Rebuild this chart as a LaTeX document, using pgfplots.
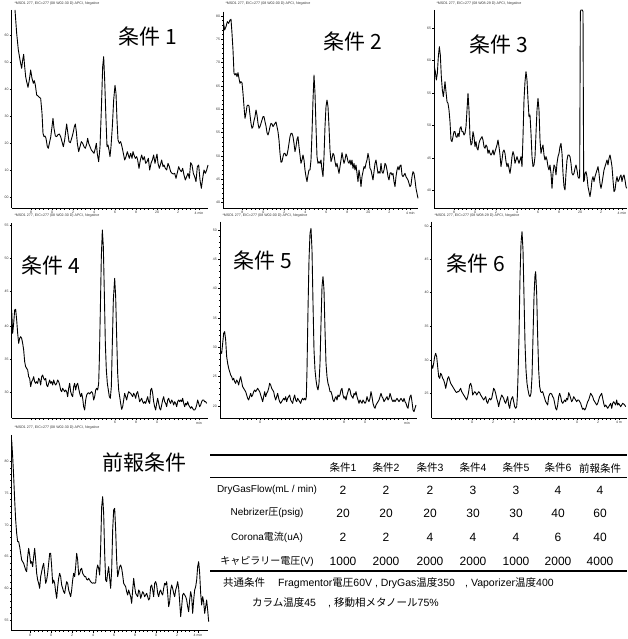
\documentclass[border=0pt]{standalone}
\usepackage{pgfplots}
\pgfplotsset{compat=1.18}
\usepackage{fontspec}
\setmainfont{Liberation Sans}
\newfontfamily\cjk{Noto Sans CJK JP}
\pgfplotsset{
  chrom/.style={
    scale only axis, anchor=south west, y dir=reverse,
    axis x line*=bottom, axis y line*=left,
    axis line style={line width=0.8pt, -},
    tick style={black, line width=0.4pt},
    tick align=outside, major tick length=2pt, minor tick length=1.2pt,
    minor x tick num=4, minor y tick num=4,
    ticklabel style={font=\fontsize{3.5}{4}\selectfont, text=black!80, inner sep=1pt},
    clip=false,
  },
  trace/.style={black, line width=0.9pt, line join=round, mark=none},
}
\newcommand{\hdr}[3]{\node[anchor=west, font=\fontsize{3.6}{4}\selectfont, text=black!80] at (#1,#2) {#3};}
\begin{document}
\begin{tikzpicture}[x=1pt, y=1pt]
\useasboundingbox (0,0) rectangle (627,639);

% ---------- Panel 1
\begin{axis}[chrom, at={(11.67pt,430.67pt)}, width=196.67pt, height=198.33pt,
  xmin=35, xmax=625, ymin=30, ymax=625,
  xtick={93,156,219,282,345,408,471,534,597}, xticklabels={8,0,2,4,6,8,20,2,4 min},
  ytick={107,187,268,349,430,511,592}, yticklabels={60,50,40,30,20,10,00}]
\addplot[trace] coordinates {(45,30) (50,100) (55,150) (60,180) (65,205) (68,180) (71,163) (74,200) (77,230) (80,245) (84,262) (88,240) (92,210) (96,235) (100,250) (103,242) (106,255) (110,285) (114,288) (118,292) (122,295) (126,340) (129,400) (132,410) (135,408) (138,415) (142,440) (145,445) (148,430) (152,412) (156,380) (159,355) (162,385) (166,408) (170,410) (174,404) (178,402) (182,410) (186,425) (190,440) (194,420) (197,395) (200,372) (203,395) (207,425) (211,428) (215,415) (219,400) (223,380) (226,372) (229,395) (232,430) (236,455) (240,440) (244,425) (248,430) (252,440) (256,445) (260,432) (263,415) (266,430) (270,440) (274,450) (278,455) (282,460) (286,445) (289,430) (292,462) (296,485) (300,440) (304,330) (308,200) (311,170) (314,240) (318,360) (321,440) (324,435) (327,450) (330,470) (333,440) (337,380) (341,300) (345,256) (348,280) (351,360) (354,420) (358,430) (362,425) (366,440) (370,460) (374,480) (378,470) (382,455) (385,465) (388,475) (392,460) (396,475) (399,455) (402,465) (406,475) (410,470) (413,480) (417,505) (421,480) (425,465) (429,480) (433,470) (437,490) (441,485) (445,475) (449,510) (453,490) (457,480) (461,465) (465,490) (468,475) (471,462) (474,490) (478,505) (481,495) (485,480) (489,500) (492,495) (496,505) (500,510) (504,490) (508,500) (512,515) (516,520) (520,522) (524,520) (528,535) (532,518) (536,500) (540,510) (544,515) (548,505) (552,525) (556,540) (560,530) (564,520) (568,535) (572,488) (576,495) (580,520) (584,530) (588,545) (592,500) (596,495) (600,540) (604,565) (608,535) (612,510) (616,520) (620,510) (624,495)};
\end{axis}

% ---------- Panel 2
\begin{axis}[chrom, at={(223.33pt,430.67pt)}, width=195pt, height=196.67pt,
  xmin=40, xmax=625, ymin=35, ymax=625,
  xtick={97,160,223,286,349,412,475,538,601}, xticklabels={8,0,2,4,6,8,20,2,4 min},
  ytick={48,118,188,258,328,398,468,538,608}, yticklabels={80,75,70,65,60,55,50,45,40}]
\addplot[trace] coordinates {(40,65) (44,90) (48,80) (52,65) (56,70) (60,60) (63,58) (66,100) (69,150) (72,220) (75,225) (78,220) (81,230) (84,218) (87,235) (90,250) (93,245) (96,248) (99,280) (102,320) (105,355) (108,340) (111,318) (114,315) (117,318) (120,345) (123,370) (126,385) (129,380) (132,362) (135,350) (138,330) (141,345) (144,370) (147,385) (150,380) (153,370) (156,360) (159,350) (162,350) (165,365) (168,378) (171,398) (174,405) (177,395) (180,380) (183,370) (186,372) (189,380) (192,375) (195,370) (198,366) (201,380) (204,395) (207,420) (210,460) (213,487) (216,485) (219,470) (222,460) (225,460) (228,468) (231,465) (234,450) (237,430) (240,410) (243,400) (246,400) (249,410) (252,430) (255,455) (258,440) (261,418) (264,410) (267,440) (270,465) (273,490) (276,480) (279,465) (282,480) (285,510) (288,530) (291,545) (294,525) (297,510) (300,510) (303,480) (306,400) (309,300) (312,225) (315,280) (318,380) (321,470) (324,490) (327,485) (330,490) (333,480) (336,510) (339,530) (342,470) (345,380) (348,320) (351,300) (354,320) (357,380) (360,450) (363,485) (366,475) (369,460) (372,465) (375,485) (378,500) (381,490) (384,505) (387,520) (390,500) (393,480) (396,458) (399,475) (402,490) (405,480) (408,462) (411,470) (414,485) (417,490) (420,480) (423,495) (426,480) (429,505) (432,490) (435,510) (438,495) (441,520) (444,545) (447,510) (450,530) (453,560) (456,530) (459,515) (462,500) (465,505) (468,490) (471,480) (474,460) (477,475) (480,505) (483,510) (486,525) (489,540) (492,515) (495,490) (498,480) (501,500) (504,520) (507,515) (510,520) (513,490) (516,515) (519,520) (522,510) (525,490) (528,495) (531,510) (534,530) (537,540) (540,520) (543,518) (546,525) (549,520) (552,545) (555,560) (558,530) (561,510) (564,500) (567,510) (570,497) (573,495) (576,525) (579,530) (582,525) (585,520) (588,530) (591,535) (594,540) (597,550) (600,560) (603,555) (606,530) (609,515) (612,520) (615,540) (618,565) (621,580) (624,595)};
\end{axis}

% ---------- Panel 3
\begin{axis}[chrom, at={(434.33pt,430.67pt)}, width=193pt, height=198.33pt,
  xmin=43, xmax=622, ymin=30, ymax=625,
  xtick={102,165,228,291,354,417,480,543,606}, xticklabels={8,0,2,4,6,8,20,2,4 min},
  ytick={85,182,280,377,475,572}, yticklabels={65,60,55,50,45,40}]
\addplot[trace] coordinates {(43,200) (46,215) (49,240) (52,220) (55,170) (58,140) (61,165) (64,230) (67,270) (70,290) (73,265) (75,245) (78,275) (81,305) (84,310) (87,330) (90,365) (93,420) (96,425) (99,410) (102,395) (105,395) (108,410) (111,412) (114,400) (117,410) (120,385) (123,380) (126,395) (129,395) (132,405) (135,400) (138,380) (141,330) (144,280) (147,330) (150,410) (153,435) (156,430) (159,395) (162,410) (165,440) (168,425) (171,445) (174,450) (177,430) (180,420) (183,415) (186,410) (189,420) (192,440) (195,445) (198,435) (201,440) (204,460) (207,450) (210,460) (213,465) (216,460) (219,450) (222,465) (225,455) (228,445) (231,435) (234,420) (237,440) (240,465) (243,500) (246,480) (249,455) (252,450) (255,460) (258,485) (261,500) (264,490) (267,505) (270,520) (273,500) (276,470) (279,455) (282,465) (285,490) (288,480) (291,470) (294,480) (297,490) (300,480) (303,470) (306,500) (309,410) (312,300) (315,245) (318,215) (321,240) (324,300) (327,350) (330,345) (333,400) (336,470) (339,500) (342,495) (345,470) (348,400) (351,330) (354,295) (357,330) (360,420) (363,460) (366,445) (369,435) (372,465) (375,480) (378,470) (381,480) (384,500) (387,510) (390,495) (393,520) (396,565) (399,520) (402,495) (405,500) (408,525) (411,490) (414,470) (417,460) (420,440) (423,430) (426,460) (429,520) (432,560) (435,570) (438,520) (441,480) (444,465) (447,465) (450,470) (453,490) (456,520) (459,525) (462,520) (465,505) (468,495) (471,510) (474,530) (477,535) (479,530) (481,35) (483,30) (487,30) (489,35) (491,545) (493,540) (495,520) (498,515) (501,530) (504,560) (507,575) (510,590) (513,570) (516,540) (519,530) (522,545) (525,530) (528,520) (531,510) (534,500) (537,520) (540,550) (543,565) (546,550) (549,530) (552,510) (555,500) (558,490) (561,480) (564,495) (567,475) (570,465) (573,480) (576,500) (579,540) (582,575) (585,570) (588,545) (591,530) (594,545) (597,540) (600,530) (603,525) (606,545) (609,530) (612,525) (615,540) (618,560) (620,565)};
\end{axis}

% ---------- Panel 4
\begin{axis}[chrom, at={(11.67pt,220.67pt)}, width=196.67pt, height=195pt,
  xmin=35, xmax=625, ymin=40, ymax=625,
  xtick={93,156,219,282,345,408,471,534,597}, xticklabels={,,,,6,8,0,,min},
  ytick={45,145,245,348,448,548}, yticklabels={55,50,45,40,35,30}]
\addplot[trace] coordinates {(35,300) (38,370) (41,340) (44,300) (47,298) (50,330) (53,370) (56,400) (59,385) (62,380) (65,385) (68,400) (71,420) (74,455) (77,470) (80,475) (83,480) (86,500) (89,505) (92,530) (95,515) (98,510) (101,500) (104,515) (107,520) (110,515) (113,520) (116,505) (119,510) (122,525) (125,500) (128,495) (131,505) (134,510) (137,505) (140,525) (143,530) (146,520) (149,510) (152,520) (155,515) (158,525) (161,510) (164,520) (167,525) (170,520) (173,510) (176,515) (179,525) (182,540) (185,545) (188,535) (191,540) (194,545) (197,540) (200,545) (203,560) (206,535) (209,520) (212,545) (215,555) (218,560) (221,530) (224,520) (227,540) (230,525) (233,520) (236,535) (239,550) (242,560) (245,550) (248,565) (251,590) (254,600) (257,570) (260,555) (263,550) (266,548) (269,552) (272,548) (275,545) (278,550) (281,570) (284,560) (287,540) (290,535) (293,540) (296,520) (298,450) (301,300) (304,140) (307,60) (310,110) (313,250) (316,400) (319,480) (322,520) (325,540) (328,560) (331,565) (334,530) (337,400) (340,270) (344,205) (347,260) (350,380) (353,490) (356,540) (359,560) (362,580) (365,598) (368,590) (371,570) (374,550) (377,560) (380,570) (383,555) (386,545) (389,548) (392,550) (395,555) (398,560) (401,550) (404,555) (407,565) (410,550) (413,545) (416,560) (419,575) (422,570) (425,565) (428,575) (431,580) (434,575) (437,580) (440,570) (443,560) (446,575) (449,580) (452,540) (455,535) (458,550) (461,575) (464,590) (467,600) (470,580) (473,565) (476,580) (479,595) (482,600) (485,585) (488,570) (491,560) (494,575) (497,580) (500,590) (503,570) (506,565) (509,575) (512,580) (515,570) (518,575) (521,585) (524,575) (527,580) (530,590) (533,575) (536,570) (539,575) (542,570) (545,575) (548,565) (551,580) (554,590) (557,580) (560,585) (563,575) (566,585) (569,590) (572,595) (575,590) (578,595) (581,600) (584,600) (587,595) (590,585) (593,570) (596,580) (599,590) (602,585) (605,575) (608,570) (611,570) (614,575) (617,575) (620,580)};
\end{axis}

% ---------- Panel 5
\begin{axis}[chrom, at={(220pt,220.67pt)}, width=196.67pt, height=196.67pt,
  xmin=45, xmax=635, ymin=35, ymax=625,
  xtick={102,165,228,291,354,417,480,543,606}, xticklabels={,0,,,,8,0,,min},
  ytick={60,148,236,324,412,500,588}, yticklabels={50,45,40,35,30,25,20}]
\addplot[trace] coordinates {(47,425) (50,430) (53,400) (56,370) (59,365) (62,390) (65,440) (68,460) (71,475) (74,485) (77,495) (80,500) (83,510) (86,505) (89,515) (92,520) (95,510) (98,515) (101,525) (104,510) (107,500) (110,515) (113,530) (116,535) (119,540) (122,545) (125,555) (128,565) (131,570) (134,560) (137,550) (140,560) (143,555) (146,545) (149,540) (152,545) (155,540) (158,535) (161,540) (164,545) (167,555) (170,565) (173,575) (176,560) (179,545) (182,560) (185,550) (188,545) (191,535) (194,520) (197,525) (200,535) (203,540) (206,545) (209,560) (212,570) (215,560) (218,550) (221,565) (224,575) (227,580) (230,575) (233,570) (236,565) (239,570) (242,560) (245,575) (248,565) (251,560) (254,555) (257,570) (260,575) (263,580) (266,565) (269,555) (272,570) (275,575) (278,565) (281,570) (284,575) (287,580) (290,570) (293,565) (296,570) (299,565) (302,570) (304,560) (306,480) (309,300) (312,150) (315,70) (318,55) (321,120) (324,280) (327,420) (330,480) (333,510) (336,530) (339,540) (342,520) (345,460) (348,340) (351,230) (354,200) (357,240) (360,360) (363,460) (366,500) (369,520) (372,530) (375,545) (378,545) (381,555) (384,570) (387,575) (390,565) (393,560) (396,570) (399,555) (402,560) (405,555) (408,540) (411,535) (414,555) (417,565) (420,560) (423,570) (426,555) (429,545) (432,535) (435,540) (438,555) (441,560) (444,565) (447,550) (450,555) (453,545) (456,560) (459,570) (462,580) (465,570) (468,575) (471,580) (474,570) (477,575) (480,580) (483,575) (486,560) (489,570) (492,575) (495,565) (498,545) (501,560) (504,580) (507,590) (510,595) (513,585) (516,580) (519,575) (522,570) (525,560) (528,550) (531,560) (534,565) (537,575) (540,570) (543,565) (546,560) (549,570) (552,565) (555,550) (558,560) (561,570) (564,575) (567,570) (570,575) (573,570) (576,565) (579,570) (582,575) (585,570) (588,565) (591,570) (594,575) (597,565) (600,575) (603,580) (606,590) (609,595) (612,575) (615,560) (618,555) (621,575) (624,600) (627,605) (630,595) (633,585)};
\end{axis}

% ---------- Panel 6
\begin{axis}[chrom, at={(431.67pt,220.67pt)}, width=195pt, height=196.67pt,
  xmin=50, xmax=635, ymin=35, ymax=625,
  xtick={108,171,234,297,360,423,486,549,612}, xticklabels={,0,2,4,,,0,2,4 m},
  ytick={48,148,248,348,450,550}, yticklabels={50,45,40,35,30,25}]
\addplot[trace] coordinates {(50,465) (53,475) (56,460) (59,440) (62,430) (65,440) (68,470) (71,500) (74,505) (77,490) (80,495) (83,505) (86,510) (89,520) (92,535) (95,520) (98,505) (101,500) (104,510) (107,520) (110,525) (113,530) (116,535) (119,540) (122,545) (125,548) (128,545) (131,545) (134,540) (137,535) (140,545) (143,550) (146,555) (149,560) (152,565) (155,570) (158,560) (161,545) (164,525) (167,520) (170,530) (173,555) (176,550) (179,545) (182,548) (185,555) (188,550) (191,545) (194,548) (197,555) (200,560) (203,565) (206,570) (209,565) (212,560) (215,575) (218,580) (221,570) (224,565) (227,570) (230,565) (233,550) (236,535) (239,540) (242,550) (245,565) (248,575) (251,590) (254,575) (257,565) (260,555) (263,560) (266,565) (269,575) (272,580) (275,570) (278,560) (281,585) (284,595) (287,575) (290,565) (293,560) (296,575) (299,590) (302,595) (305,590) (307,560) (309,500) (312,380) (315,200) (318,100) (321,65) (324,120) (327,260) (330,400) (333,480) (336,520) (339,540) (342,555) (345,560) (348,550) (351,500) (354,380) (357,260) (360,195) (362,185) (365,250) (368,380) (371,480) (374,530) (377,545) (380,548) (383,545) (386,555) (389,565) (392,575) (395,580) (398,585) (401,560) (404,552) (407,550) (410,552) (413,560) (416,565) (419,580) (422,595) (425,600) (428,585) (431,560) (434,550) (437,560) (440,575) (443,580) (446,575) (449,570) (452,575) (455,565) (458,570) (461,548) (464,555) (467,565) (470,575) (473,570) (476,560) (479,565) (482,570) (485,575) (488,570) (491,570) (494,575) (497,580) (500,590) (503,598) (506,595) (509,600) (512,595) (515,585) (518,575) (521,570) (524,560) (527,550) (530,555) (533,560) (536,570) (539,575) (542,580) (545,585) (548,580) (551,570) (554,560) (557,555) (560,550) (563,565) (566,580) (569,590) (572,585) (575,590) (578,595) (581,590) (584,585) (587,580) (590,595) (593,580) (596,575) (599,580) (602,585) (605,570) (608,585) (611,580) (614,585) (617,590) (620,585) (623,580) (626,582) (629,585) (632,590)};
\end{axis}

% ---------- Panel 7
\begin{axis}[chrom, at={(11.67pt,8.33pt)}, width=196.67pt, height=195.67pt,
  xmin=35, xmax=625, ymin=45, ymax=632,
  xtick={90,153,216,279,342,405,468,531,594}, xticklabels={8,0,2,4,6,8,0,2,4 min},
  ytick={125,220,315,410,505,600}, yticklabels={80,75,70,65,60,55}]
\addplot[trace] coordinates {(35,60) (38,110) (41,170) (44,240) (47,300) (50,340) (53,365) (56,365) (59,380) (62,400) (65,420) (68,425) (71,430) (74,440) (77,450) (80,455) (83,410) (86,385) (89,405) (92,430) (95,425) (98,440) (101,410) (104,385) (107,420) (110,460) (113,480) (116,490) (119,505) (122,470) (125,455) (128,440) (131,430) (134,460) (137,490) (140,480) (143,460) (146,430) (149,400) (152,400) (155,440) (158,490) (161,480) (164,490) (167,515) (170,535) (173,500) (176,475) (179,460) (182,470) (185,495) (188,505) (191,515) (194,520) (197,500) (200,485) (203,490) (206,510) (209,520) (212,530) (215,510) (218,480) (221,460) (224,470) (227,440) (230,400) (233,420) (236,465) (239,460) (242,448) (245,445) (248,460) (251,465) (254,470) (257,470) (260,478) (263,480) (266,475) (269,480) (272,485) (275,488) (278,490) (281,488) (284,490) (287,488) (290,450) (293,435) (296,445) (299,465) (302,380) (305,260) (308,230) (311,280) (314,400) (317,480) (320,485) (323,460) (326,440) (329,475) (332,505) (335,450) (338,330) (341,270) (344,265) (347,330) (350,420) (353,470) (356,455) (359,440) (362,435) (365,445) (368,465) (371,490) (374,495) (377,500) (380,515) (383,525) (386,510) (389,520) (392,530) (395,550) (398,510) (401,475) (404,500) (407,520) (410,525) (413,530) (416,510) (419,515) (422,535) (425,525) (428,515) (431,520) (434,530) (437,525) (440,520) (443,530) (446,540) (449,535) (452,500) (455,495) (458,510) (461,530) (464,490) (467,485) (470,495) (473,520) (476,530) (479,515) (482,510) (485,520) (488,525) (491,505) (494,490) (497,495) (500,485) (503,520) (506,560) (509,545) (512,510) (515,495) (518,505) (521,520) (524,530) (527,510) (530,500) (533,485) (536,505) (539,545) (542,590) (545,560) (548,525) (551,520) (554,525) (557,530) (560,540) (563,560) (566,575) (569,540) (572,515) (575,530) (578,580) (581,540) (584,510) (587,500) (590,480) (593,440) (596,425) (599,460) (602,520) (605,555) (608,530) (611,545) (614,580) (617,560) (620,540) (623,570) (626,605)};
\end{axis}

% ---------- headers
\hdr{11}{635}{*MSD1 277, EIC=277 (08 W02-30 D) APCI, Negative}
\hdr{222}{635}{*MSD1 277, EIC=277 (08 W02-00 D) APCI, Negative}
\hdr{433}{635}{*MSD1 277, EIC=277 (08 W08-29 D) APCI, Negative}
\hdr{11}{423}{*MSD1 277, EIC=277 (08 W02-30 D) APCI, Negative}
\hdr{219}{423}{*MSD1 277, EIC=277 (08 W02-00 D) APCI, Negative}
\hdr{431}{423}{*MSD1 277, EIC=277 (08 W08-29 D) APCI, Negative}
\hdr{11}{211}{*MSD1 277, EIC=277 (08 W02-30 D) APCI, Negative}

% ---------- panel titles
\node[font=\cjk\fontsize{21}{24}\selectfont] at (148,602) {条件 1};
\node[font=\cjk\fontsize{21}{24}\selectfont] at (353,597) {条件 2};
\node[font=\cjk\fontsize{21}{24}\selectfont] at (499,594) {条件 3};
\node[font=\cjk\fontsize{21}{24}\selectfont] at (51,373) {条件 4};
\node[font=\cjk\fontsize{21}{24}\selectfont] at (263,378) {条件 5};
\node[font=\cjk\fontsize{21}{24}\selectfont] at (476,375) {条件 6};
\node[font=\cjk\fontsize{21}{24}\selectfont] at (144,177) {前報条件};

% ---------- table
\draw[line width=1.2pt] (210,184) -- (627,184);
\draw[line width=0.9pt] (210,162) -- (627,162);
\draw[line width=1.2pt] (210,68) -- (627,68);
\foreach \x/\t in {343/1,386/2,430/3,473/4,516/5,558/6}
  \node[font=\fontsize{10.5}{12}\selectfont, inner sep=0pt] at (\x,171) {{\cjk 条件}\t};
\node[font=\cjk\fontsize{10.5}{12}\selectfont, inner sep=0pt] at (600,171) {前報条件};
\node[font=\fontsize{10}{12}\selectfont, inner sep=0pt] at (267,149) {DryGasFlow(mL / min)};
\node[font=\fontsize{10}{12}\selectfont, inner sep=0pt] at (267,126) {Nebrizer{\cjk 圧}(psig)};
\node[font=\fontsize{10}{12}\selectfont, inner sep=0pt] at (267,102) {Corona{\cjk 電流}(uA)};
\node[font=\fontsize{10}{12}\selectfont, inner sep=0pt] at (267,78) {{\cjk キャピラリー電圧}(V)};
\foreach \y/\a/\b/\c/\d/\e/\f/\g in {149/2/2/2/3/3/4/4, 126/20/20/20/30/30/40/60, 102/2/2/4/4/4/6/40, 78/1000/2000/2000/2000/1000/2000/4000}{
  \node[font=\fontsize{12}{14}\selectfont, inner sep=0pt] at (343,\y) {\a};
  \node[font=\fontsize{12}{14}\selectfont, inner sep=0pt] at (386,\y) {\b};
  \node[font=\fontsize{12}{14}\selectfont, inner sep=0pt] at (430,\y) {\c};
  \node[font=\fontsize{12}{14}\selectfont, inner sep=0pt] at (473,\y) {\d};
  \node[font=\fontsize{12}{14}\selectfont, inner sep=0pt] at (516,\y) {\e};
  \node[font=\fontsize{12}{14}\selectfont, inner sep=0pt] at (558,\y) {\f};
  \node[font=\fontsize{12}{14}\selectfont, inner sep=0pt] at (600,\y) {\g};
}
\node[anchor=west, font=\cjk\fontsize{10.5}{12}\selectfont, inner sep=0pt] at (223,56) {共通条件};
\node[anchor=west, font=\fontsize{10.5}{12}\selectfont, inner sep=0pt] at (278,56) {Fragmentor{\cjk 電圧}60V , DryGas{\cjk 温度}350};
\node[anchor=west, font=\fontsize{10.5}{12}\selectfont, inner sep=0pt] at (465,56) {, Vaporizer{\cjk 温度}400};
\node[anchor=west, font=\fontsize{10.5}{12}\selectfont, inner sep=0pt] at (252,36) {{\cjk カラム温度}45};
\node[anchor=west, font=\fontsize{10.5}{12}\selectfont, inner sep=0pt] at (328,36) {, {\cjk 移動相メタノール}75\%};
\end{tikzpicture}
\end{document}
